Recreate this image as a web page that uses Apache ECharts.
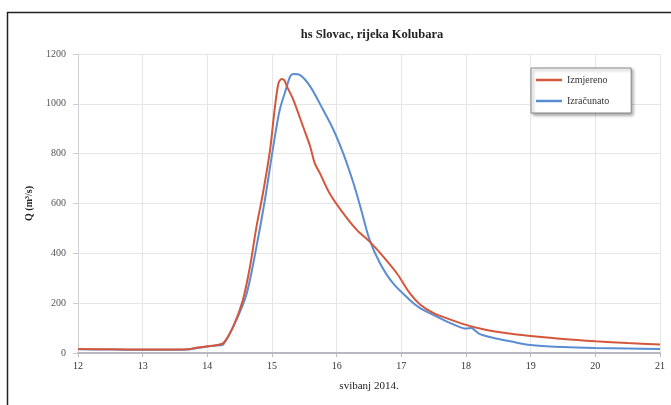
<!DOCTYPE html>
<html>
<head>
<meta charset="utf-8">
<script src="https://cdn.jsdelivr.net/npm/echarts@6/dist/echarts.min.js"></script>
<style>
html,body{margin:0;padding:0;background:#fff;}
#chart{width:671px;height:405px;}
</style>
</head>
<body>
<div id="chart"></div>
<script>
// Data (day of May 2014, discharge m3/s)
var measuredDays = [12.0, 12.5, 13.0, 13.5, 13.7, 13.85, 14.0, 14.15, 14.25, 14.4, 14.55, 14.66, 14.76, 14.86, 14.97, 15.04, 15.10, 15.15, 15.19, 15.23, 15.33, 15.48, 15.59, 15.66, 15.74, 15.89, 16.10, 16.31, 16.51, 16.72, 16.93, 17.13, 17.29, 17.5, 17.75, 18.0, 18.25, 18.5, 18.75, 19.0, 19.5, 20.0, 20.5, 21.0];
var measuredQ    = [16, 15, 14, 14, 15, 22, 27, 32, 40, 106, 213, 347, 507, 641, 815, 976, 1083, 1100, 1095, 1070, 1016, 909, 829, 762, 722, 641, 561, 494, 447, 387, 320, 240, 195, 160, 135, 113, 96, 84, 75, 68, 56, 47, 40, 34];

var computedDays = [12.0, 12.5, 13.0, 13.5, 13.7, 13.85, 14.0, 14.15, 14.25, 14.45, 14.61, 14.76, 14.89, 15.02, 15.12, 15.23, 15.28, 15.33, 15.43, 15.59, 15.79, 15.95, 16.10, 16.26, 16.38, 16.51, 16.67, 16.87, 17.13, 17.29, 17.44, 17.65, 17.85, 18.0, 18.08, 18.2, 18.4, 18.7, 19.0, 19.5, 20.0, 20.5, 21.0];
var computedQ    = [15, 14, 13, 13, 14, 20, 26, 30, 36, 133, 240, 427, 614, 829, 976, 1070, 1110, 1120, 1116, 1070, 976, 896, 802, 681, 574, 454, 360, 280, 213, 180, 160, 133, 110, 98, 100, 78, 62, 46, 32, 24, 20, 18, 16];

var xTicks = [12, 13, 14, 15, 16, 17, 18, 19, 20, 21];
var yTicks = [0, 200, 400, 600, 800, 1000, 1200];

function zip(a, b) { return a.map(function (v, i) { return [v, b[i]]; }); }

var serif = '"Liberation Serif", "DejaVu Serif", serif';
var chart = echarts.init(document.getElementById('chart'), null, {renderer: 'canvas'});
chart.setOption({
  animation: false,
  backgroundColor: '#fff',
  title: {
    text: 'hs Slovac, rijeka Kolubara',
    left: 367, top: 23, textAlign: 'center',
    textStyle: {fontFamily: serif, fontSize: 12.5, fontWeight: 'bold', color: '#222'}
  },
  graphic: [{
    type: 'rect', left: 5, top: 10, silent: true,
    shape: {width: 700, height: 420},
    style: {fill: 'none', stroke: '#222', lineWidth: 1.5}
  }],
  legend: {
    left: 531, top: 68, orient: 'vertical',
    padding: [7, 22, 7, 5],
    itemGap: 11, itemWidth: 26, itemHeight: 2.5,
    icon: 'rect',
    backgroundColor: '#fff', borderColor: '#888', borderWidth: 1,
    shadowColor: 'rgba(0,0,0,0.35)', shadowBlur: 3, shadowOffsetX: 2, shadowOffsetY: 2,
    textStyle: {fontFamily: serif, fontSize: 10, color: '#333'},
    data: ['Izmjereno', 'Izračunato']
  },
  grid: {left: 78, right: 11, top: 54, bottom: 52, containLabel: false},
  xAxis: {
    type: 'value', min: xTicks[0], max: xTicks[xTicks.length - 1], interval: 1,
    name: 'svibanj 2014.', nameLocation: 'middle', nameGap: 28,
    nameTextStyle: {fontFamily: serif, fontSize: 11, color: '#222'},
    axisLine: {show: true, lineStyle: {color: '#b8b8c4', width: 2}},
    axisTick: {show: true, length: 4, lineStyle: {color: '#bbb'}},
    axisLabel: {fontFamily: serif, fontSize: 10, color: '#333', margin: 8,
      formatter: function (v) { return String(v); }},
    splitLine: {show: true, lineStyle: {color: '#e6e6e6', width: 1}}
  },
  yAxis: {
    type: 'value', min: yTicks[0], max: yTicks[yTicks.length - 1], interval: 200,
    name: 'Q (m³/s)', nameLocation: 'middle', nameGap: 44, nameRotate: 90,
    nameTextStyle: {fontFamily: serif, fontSize: 10, fontWeight: 'bold', color: '#222'},
    axisLine: {show: true, lineStyle: {color: '#d0d0d8', width: 1}},
    axisTick: {show: true, length: 5, lineStyle: {color: '#ccc'}},
    axisLabel: {fontFamily: serif, fontSize: 10, color: '#555', margin: 12,
      formatter: function (v) { return String(v); }},
    splitLine: {show: true, lineStyle: {color: '#e6e6e6', width: 1}}
  },
  series: [{
    name: 'Izmjereno', type: 'line', data: zip(measuredDays, measuredQ),
    showSymbol: false, smooth: 0.3, z: 3,
    lineStyle: {color: '#d5573b', width: 2}, itemStyle: {color: '#d5573b'}
  }, {
    name: 'Izračunato', type: 'line', data: zip(computedDays, computedQ),
    showSymbol: false, smooth: 0.3, z: 2,
    lineStyle: {color: '#5b8dd2', width: 2}, itemStyle: {color: '#5b8dd2'}
  }]
});
</script>
</body>
</html>
